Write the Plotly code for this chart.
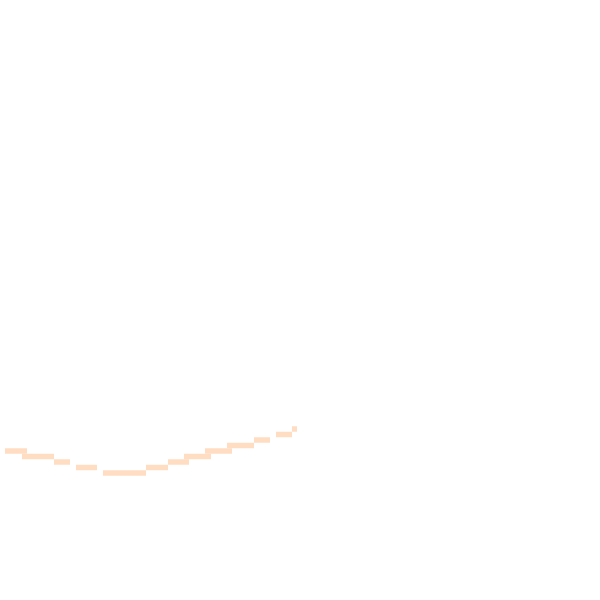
import plotly.graph_objects as go

# horizontal segments
seg_start = [5, 22, 54, 76, 103, 146, 168, 184, 205, 227, 254, 276, 292]
seg_end = [27, 54, 70, 97, 146, 168, 189, 211, 232, 254, 270, 292, 297]
seg_level = [4, 3, 2, 1, 0, 1, 2, 3, 4, 5, 6, 7, 8]

widths = [e - s for s, e in zip(seg_start, seg_end)]

fig = go.Figure()
fig.add_trace(go.Bar(y=seg_level, x=widths, base=seg_start, orientation='h',
                     width=1.0, marker=dict(color='#FFDDC3', line_width=0),
                     hoverinfo='skip'))

fig.update_layout(width=600, height=600, margin=dict(l=0, r=0, t=0, b=0),
                  paper_bgcolor='white', plot_bgcolor='white', showlegend=False)
fig.update_xaxes(range=[0, 600], visible=False, fixedrange=True)
y_top = 473 / 5.5
fig.update_yaxes(range=[y_top - 600 / 5.5, y_top], visible=False, fixedrange=True)

# drop the default 8px body margin so the plot sits at the page corner
fig.write_html("out.html", config={'displayModeBar': False},
               post_script="document.body.style.margin='0';")
